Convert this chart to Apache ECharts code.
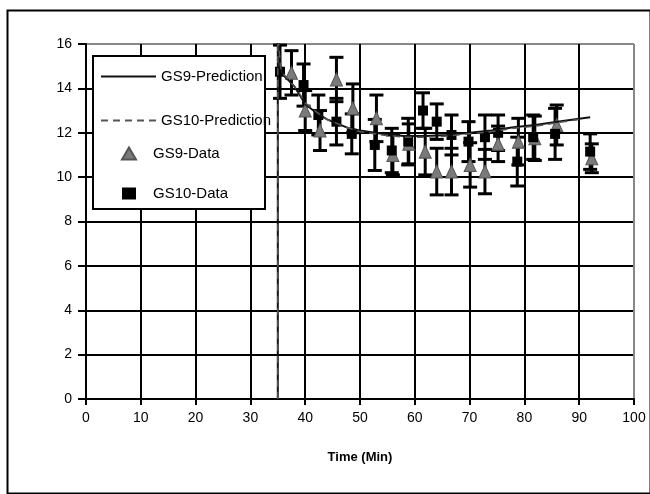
<!DOCTYPE html>
<html>
<head>
<meta charset="utf-8">
<script src="https://cdn.jsdelivr.net/npm/echarts@6/dist/echarts.min.js"></script>
<style>
html, body { margin: 0; padding: 0; background: #fff; }
#chart { width: 650px; height: 494px; }
</style>
</head>
<body>
<div id="chart"></div>
<script>
// measured data (time in min)
var gs9Time  = [37.5, 40.0, 42.7, 45.7, 48.7, 53.0, 56.0, 58.9, 61.9, 64.0, 66.7, 70.1, 72.8, 75.2, 78.9, 81.9, 85.9, 92.3];
var gs9Value = [14.7, 13.0, 12.1, 14.4, 13.1, 12.65, 11.0, 11.5, 11.15, 10.25, 10.25, 10.55, 10.25, 11.5, 11.6, 11.75, 12.35, 10.85];
var gs9Err   = [1.0, 0.9, 0.9, 1.0, 1.1, 1.05, 0.9, 0.9, 1.05, 1.05, 1.05, 1.0, 1.0, 0.8, 1.05, 1.0, 0.9, 0.65];

var gs10Time  = [35.4, 39.7, 42.4, 45.7, 48.5, 52.7, 55.8, 58.8, 61.5, 64.0, 66.7, 69.8, 72.8, 75.2, 78.7, 81.6, 85.6, 92.0];
var gs10Value = [14.75, 14.15, 12.8, 12.5, 11.95, 11.45, 11.2, 11.6, 13.0, 12.5, 11.9, 11.6, 11.8, 12.0, 10.7, 11.8, 11.95, 11.15];
var gs10Err   = [1.2, 0.95, 0.9, 1.05, 0.9, 1.15, 1.0, 1.05, 0.8, 0.8, 0.9, 0.9, 1.0, 0.8, 1.1, 1.0, 1.15, 0.8];

// model predictions
var predTime9 = [35, 35, 35.5, 36, 37, 38, 39, 40, 42, 44, 46, 48, 50, 54, 58, 62, 66, 70, 74, 78, 82, 86, 89, 92];
var pred9     = [0, 16.5, 14.9, 14.6, 14.35, 14.1, 13.7, 13.3, 12.9, 12.6, 12.4, 12.2, 12.1, 11.95, 11.85, 11.85, 11.9, 12.0, 12.1, 12.25, 12.35, 12.5, 12.6, 12.7];
var predTime10 = [35, 35, 35.5, 36, 37, 38, 39, 40, 42, 44, 46, 48, 50, 54, 58, 62, 66, 70, 74, 78, 82, 86, 90];
var pred10     = [0, 16.5, 14.95, 14.65, 14.4, 14.1, 13.75, 13.35, 12.95, 12.6, 12.4, 12.2, 12.05, 11.9, 11.8, 11.8, 11.85, 11.95, 12.05, 12.2, 12.3, 12.45, 12.6];

var seriesNames = ['GS9-Prediction', 'GS10-Prediction', 'GS9-Data', 'GS10-Data'];

function pairs(xs, ys) {
	return xs.map(function (x, i) { return [x, ys[i]]; });
}
function errRows(xs, ys, es) {
	return xs.map(function (x, i) { return [x, ys[i] - es[i], ys[i] + es[i]]; });
}

function renderErrorBar(params, api) {
	var x = api.value(0);
	var top = api.coord([x, api.value(2)]);
	var bot = api.coord([x, api.value(1)]);
	var hw = 7;
	var st = { stroke: '#000', lineWidth: 3 };
	return {
		type: 'group',
		children: [
			{ type: 'line', shape: { x1: top[0], y1: top[1], x2: bot[0], y2: bot[1] }, style: st },
			{ type: 'line', shape: { x1: top[0] - hw, y1: top[1], x2: top[0] + hw, y2: top[1] }, style: st },
			{ type: 'line', shape: { x1: bot[0] - hw, y1: bot[1], x2: bot[0] + hw, y2: bot[1] }, style: st }
		]
	};
}

var chart = echarts.init(document.getElementById('chart'));
var font = 'Liberation Sans, Arial, sans-serif';

var option = {
	backgroundColor: '#fff',
	animation: false,
	textStyle: { fontFamily: font },
	grid: { left: 86, right: 16, top: 44, bottom: 95 },
	graphic: [
		{ type: 'rect', left: 5, top: 8, shape: { width: 643, height: 483 },
		  style: { fill: 'none', stroke: '#000', lineWidth: 2 }, z: 1 },
		{ type: 'rect', left: 92, top: 55, shape: { width: 172, height: 153 },
		  style: { fill: '#fff', stroke: '#000', lineWidth: 2 }, z: 3 }
	],
	legend: [
		{
			data: seriesNames.slice(0, 2),
			orient: 'vertical', left: 95, top: 64,
			itemWidth: 55, itemHeight: 14, itemGap: 29,
			itemStyle: { opacity: 0 },
			textStyle: { fontSize: 15, color: '#000', fontFamily: font },
			z: 5
		},
		{
			data: seriesNames.slice(2),
			orient: 'vertical', left: 116, top: 141,
			itemWidth: 14, itemHeight: 12, itemGap: 25,
			textStyle: { fontSize: 15, color: '#000', fontFamily: font, padding: [0, 0, 0, 12] },
			z: 5
		}
	],
	xAxis: {
		type: 'value', min: 0, max: 100, interval: 10,
		name: 'Time (Min)', nameLocation: 'middle', nameGap: 52,
		nameTextStyle: { fontSize: 13, fontWeight: 'bold', color: '#000' },
		axisLine: { lineStyle: { color: '#000', width: 2 } },
		axisTick: { length: 6, lineStyle: { color: '#000', width: 2 } },
		axisLabel: { fontSize: 14, color: '#000', margin: 12 },
		splitLine: { show: true, lineStyle: { width: 2,
			color: ['#000', '#000', '#000', '#000', '#000', '#000', '#000', '#000', '#000', '#000', '#888'] } }
	},
	yAxis: {
		type: 'value', min: 0, max: 16, interval: 2,
		axisLine: { show: true, lineStyle: { color: '#000', width: 2 } },
		axisTick: { show: true, length: 8, lineStyle: { color: '#000', width: 2 } },
		axisLabel: { fontSize: 14, color: '#000', margin: 14 },
		splitLine: { show: true, lineStyle: { width: 2,
			color: ['#000', '#000', '#000', '#000', '#000', '#000', '#000', '#000', '#888'] } }
	},
	series: [
		{
			name: 'GS9-Prediction', type: 'line', symbol: 'none', z: 4,
			data: pairs(predTime9, pred9),
			lineStyle: { color: '#111', width: 2 },
			itemStyle: { color: '#111' }
		},
		{
			name: 'GS10-Prediction', type: 'line', symbol: 'none', z: 4,
			data: pairs(predTime10, pred10),
			lineStyle: { color: '#555', width: 1.5, type: [7, 5] },
			itemStyle: { color: '#555' }
		},
		{
			name: 'GS9-Err', type: 'custom', z: 2,
			renderItem: renderErrorBar,
			encode: { x: 0, y: [1, 2] },
			data: errRows(gs9Time, gs9Value, gs9Err)
		},
		{
			name: 'GS10-Err', type: 'custom', z: 2,
			renderItem: renderErrorBar,
			encode: { x: 0, y: [1, 2] },
			data: errRows(gs10Time, gs10Value, gs10Err)
		},
		{
			name: 'GS9-Data', type: 'scatter', symbol: 'triangle', symbolSize: [12, 13], z: 3,
			data: pairs(gs9Time, gs9Value),
			itemStyle: { color: '#7a7a7a', borderColor: '#555', borderWidth: 1, opacity: 1 }
		},
		{
			name: 'GS10-Data', type: 'scatter', symbol: 'rect', symbolSize: 10, z: 3,
			data: pairs(gs10Time, gs10Value),
			itemStyle: { color: '#000', opacity: 1 }
		}
	]
};

chart.setOption(option);
</script>
</body>
</html>
